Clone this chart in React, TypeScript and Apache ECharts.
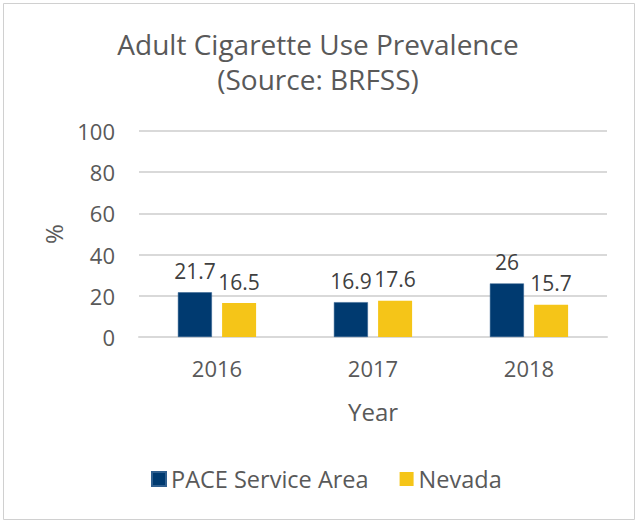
import React, { useEffect, useRef } from "react";
import * as echarts from "echarts";

const years = ["2016", "2017", "2018"];
const paceValues = [21.7, 16.9, 26];
const nevadaValues = [16.5, 17.6, 15.7];
const seriesNames = ["PACE Service Area", "Nevada"];
const titleLines = ["Adult Cigarette Use Prevalence", "(Source: BRFSS)"];

const FONT = "'Open Sans', sans-serif";
const TXT = "#595959";

export default function App() {
  const ref = useRef<HTMLDivElement>(null);
  useEffect(() => {
    if (!ref.current) return;
    const chart = echarts.init(ref.current, null, { renderer: "svg" });
    chart.setOption({
      animation: false,
      backgroundColor: "#ffffff",
      textStyle: { fontFamily: FONT },
      title: {
        text: titleLines.join("\n"),
        left: "center",
        top: 21,
        textStyle: {
          fontFamily: FONT,
          fontSize: 28,
          fontWeight: "normal",
          color: TXT,
          lineHeight: 35,
        },
      },
      graphic: [
        {
          type: "rect",
          shape: { x: 3.5, y: 3.5, width: 631, height: 516 },
          style: { fill: "none", stroke: "#d0d0d0", lineWidth: 1 },
          silent: true,
        },
      ],
      legend: {
        bottom: 25,
        left: 146,
        itemWidth: 14,
        itemHeight: 14,
        itemGap: 31,
        icon: "rect",
        textStyle: { fontFamily: FONT, fontSize: 23.5, color: TXT },
        data: seriesNames,
      },
      grid: { left: 139, right: 29, top: 131, bottom: 184, containLabel: false },
      xAxis: {
        type: "category",
        data: years,
        name: "Year",
        nameLocation: "middle",
        nameGap: 62,
        nameTextStyle: { fontFamily: FONT, fontSize: 24, color: TXT },
        axisLine: { show: true, lineStyle: { color: "#d9d9d9", width: 2 } },
        axisTick: { show: false },
        axisLabel: { fontFamily: FONT, fontSize: 22, color: TXT, margin: 20 },
      },
      yAxis: {
        type: "value",
        min: 0,
        max: 100,
        interval: 20,
        name: "%",
        nameLocation: "middle",
        nameGap: 74,
        nameRotate: 90,
        nameTextStyle: { fontFamily: FONT, fontSize: 24, color: TXT },
        axisLine: { show: false },
        axisTick: { show: false },
        axisLabel: { fontFamily: FONT, fontSize: 22, color: TXT, margin: 24 },
        splitLine: { lineStyle: { color: "#d9d9d9", width: 2 } },
      },
      series: [
        {
          name: seriesNames[0],
          type: "bar",
          data: paceValues,
          barWidth: 34,
          barGap: "30%",
          itemStyle: { color: "#003a70", borderColor: "#2f5f8f", borderWidth: 0.5 },
          label: {
            show: true,
            position: "top",
            distance: 11,
            fontFamily: FONT,
            fontSize: 21,
            color: "#404040",
          },
        },
        {
          name: seriesNames[1],
          type: "bar",
          data: nevadaValues,
          barWidth: 34,
          itemStyle: { color: "#f5c518" },
          label: {
            show: true,
            position: "top",
            distance: 11,
            fontFamily: FONT,
            fontSize: 21,
            color: "#404040",
          },
        },
      ],
    });
    return () => chart.dispose();
  }, []);
  return (
    <div
      ref={ref}
      style={{ position: "fixed", left: 0, top: 0, width: 636, height: 521 }}
    />
  );
}
